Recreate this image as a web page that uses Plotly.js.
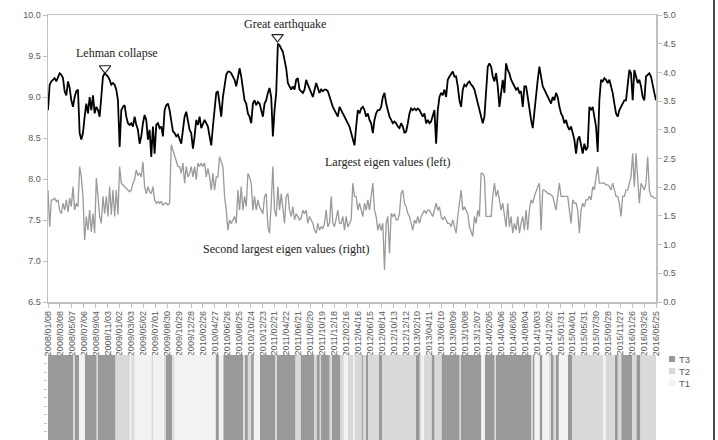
<!DOCTYPE html>
<html><head><meta charset="utf-8">
<script src="https://cdn.plot.ly/plotly-3.0.1.min.js"></script>
<style>html,body{margin:0;padding:0;background:#fff}#wrap{position:relative;width:718px;height:440px}#chart{width:718px;height:440px}#edge{position:absolute;left:713px;top:0;width:2px;height:440px;background:#4a4a4a}</style>
</head><body><div id="wrap"><div id="chart"></div><div id="edge"></div></div>
<script>
// ---- data ----
const START = '2008-01-08';
const END = '2016-05-25';
const SPAN_DAYS = 3060;      // START .. END
const N_READINGS = 366;      // readings evenly spaced over the span

const largestEigen = [
8.84,9.15,9.19,9.21,9.23,9.19,9.25,9.29,9.27,9.23,
9.07,9.02,9.19,9.11,8.96,8.88,9.00,9.07,9.09,8.56,
8.48,8.56,8.76,8.92,8.80,9.00,8.84,9.02,8.80,8.88,
8.84,8.76,9.00,9.25,9.29,9.27,9.25,9.21,9.15,9.17,
9.15,9.09,8.96,8.39,8.84,8.88,8.90,8.76,8.68,8.66,
8.68,8.64,8.76,8.66,8.60,8.43,8.52,8.68,8.78,8.72,
8.48,8.60,8.27,8.64,8.31,8.66,8.68,8.62,8.64,8.52,
8.84,8.90,8.92,8.84,8.72,8.58,8.56,8.52,8.54,8.48,
8.43,8.60,8.76,8.82,8.72,8.60,
8.56,8.37,8.52,8.72,8.66,8.76,8.62,8.68,8.72,8.68,
8.64,8.52,8.41,8.64,8.84,9.05,9.07,8.88,8.76,9.00,
9.13,9.27,9.31,9.31,9.29,9.25,9.21,9.13,9.25,9.35,
9.25,9.09,8.96,8.92,8.80,8.76,8.68,8.92,8.96,8.90,
8.94,8.92,8.84,8.76,8.92,8.96,9.05,9.11,9.00,8.52,
8.84,9.05,9.65,9.63,9.59,9.55,9.45,9.35,9.17,9.13,
9.09,9.13,9.09,9.21,9.23,9.09,9.07,9.05,9.09,9.21,
9.15,9.09,9.05,9.00,9.09,9.17,9.11,9.05,9.09,9.07,
9.09,9.09,9.07,9.00,8.96,8.88,8.84,8.80,8.76,8.88,
8.84,8.80,8.76,8.72,8.68,8.64,8.56,8.48,8.41,8.64,
8.84,8.80,8.86,8.88,8.84,8.76,8.80,8.72,8.68,8.56,
8.72,8.80,8.84,8.84,8.88,9.00,9.05,8.92,8.84,8.76,
8.72,8.68,8.70,8.68,8.64,8.62,8.68,8.64,8.56,8.58,
8.68,8.80,8.86,8.84,8.86,8.84,8.86,8.84,8.80,8.76,
8.80,8.68,8.72,8.68,8.70,8.76,8.84,8.43,8.84,9.00,
9.05,9.02,9.09,9.00,9.21,9.25,9.29,9.31,9.25,9.25,
9.13,8.96,8.88,9.09,9.15,9.13,9.17,9.19,9.15,9.13,
9.09,9.00,8.92,8.84,8.76,8.68,8.76,9.13,9.37,9.41,
9.37,9.25,9.19,9.29,9.13,8.88,9.09,9.21,9.05,9.41,
9.33,9.29,9.21,9.17,9.13,9.09,9.11,9.05,9.07,8.88,
9.13,9.13,9.00,8.84,8.72,8.62,8.84,9.09,9.21,9.37,
9.25,9.13,9.09,9.05,9.00,8.96,8.92,9.00,8.96,9.05,
9.00,8.88,8.80,8.76,8.68,8.72,8.64,8.60,8.64,8.56,
8.48,8.31,8.48,8.52,8.39,8.31,8.43,8.35,8.39,8.88,
8.84,8.88,8.76,8.64,8.33,8.96,9.21,9.19,9.23,9.21,
9.17,9.21,9.13,9.05,8.92,8.80,8.76,8.84,8.88,8.92,
8.96,8.96,9.13,9.33,9.29,8.96,9.33,9.25,9.17,9.21,
9.13,9.00,8.96,9.25,9.27,9.29,9.25,9.13,9.05,8.96
];
const secondEigen = [
1.95,1.31,1.78,1.78,1.81,1.75,1.78,1.60,1.54,1.72,
1.60,1.78,1.57,1.81,1.66,2.01,1.60,1.72,1.66,2.36,
2.18,1.84,1.08,1.49,1.25,1.60,1.22,1.54,1.20,2.16,
1.84,1.49,1.37,1.84,1.54,1.84,1.49,2.01,1.52,1.95,
1.49,1.95,1.52,2.36,2.07,2.04,2.01,1.98,1.95,1.92,
1.95,2.07,2.13,2.30,2.21,2.24,2.18,2.44,2.01,1.89,
2.01,1.92,1.89,2.01,1.78,1.72,1.75,1.72,1.75,1.69,
1.72,1.72,1.69,1.72,2.74,2.65,2.53,2.47,2.36,2.36,
2.24,2.42,2.07,2.36,2.18,2.24,
2.36,2.18,2.36,2.13,2.42,2.36,2.42,2.36,2.42,2.18,
2.33,2.18,1.95,2.24,1.95,2.18,2.18,2.53,2.42,2.36,
1.84,1.60,1.25,1.43,1.37,1.43,1.49,1.37,1.95,1.60,
2.01,1.60,1.84,1.66,2.24,2.18,2.07,1.60,1.84,1.60,
1.78,1.66,1.60,1.54,1.84,1.89,1.31,1.20,1.72,2.36,
1.60,1.49,2.01,1.60,1.89,1.60,1.37,1.84,1.89,1.60,
1.49,1.66,1.43,1.54,1.49,1.43,1.46,1.60,1.54,1.60,
1.37,1.49,1.43,1.37,1.25,1.20,1.37,1.25,1.31,1.28,
1.37,1.60,1.31,1.37,1.84,1.37,1.31,1.49,1.60,1.37,
1.37,1.49,1.25,1.49,1.31,1.37,1.43,2.07,1.84,1.84,
1.60,1.72,1.60,1.49,1.72,1.60,1.78,1.60,1.84,2.07,
1.60,1.49,1.25,1.37,1.25,1.37,0.56,1.37,1.49,0.85,
1.54,1.49,1.54,1.43,1.43,1.54,1.89,1.95,1.72,1.66,
1.54,1.49,1.37,1.25,1.43,1.37,1.49,1.37,1.49,1.54,
1.60,1.54,1.60,1.60,1.54,1.49,1.60,1.72,1.60,1.66,
1.49,1.43,1.49,1.43,1.37,1.37,1.31,1.43,1.31,1.20,
1.49,1.72,1.95,1.60,1.66,1.60,1.54,1.31,1.20,1.14,
1.49,1.37,1.60,1.49,2.24,2.24,2.18,1.49,1.49,1.49,
1.49,1.84,2.07,1.84,1.95,1.78,1.60,1.72,1.49,1.31,
1.72,1.31,1.49,1.20,1.37,1.25,1.49,1.20,1.37,1.49,
1.25,1.60,1.25,1.60,1.78,1.72,1.84,1.95,2.01,2.07,
1.25,1.95,1.95,1.92,1.89,1.89,1.86,1.84,1.72,1.60,
1.84,2.07,1.84,1.84,1.84,1.84,1.84,1.60,1.37,1.78,
1.72,1.72,1.60,1.20,1.60,1.72,1.66,1.78,1.78,1.84,
1.78,2.01,1.95,2.18,2.36,2.07,2.07,2.07,2.07,2.04,
2.04,2.01,1.95,2.07,1.95,1.84,1.84,1.72,1.49,1.84,
1.84,1.95,1.95,2.07,2.18,2.59,2.01,2.59,2.18,1.72,
2.07,2.01,1.95,2.07,2.53,1.95,1.84,1.84,1.81,1.81
];

// regime strip: start day (days after START) and regime of each segment
const regimeStartDay = [0,127,134,156,185,245,251,340,412,419,436,520,530,583,592,625,637,843,860,882,
982,991,1006,1022,1036,1066,1145,1152,1246,1271,1341,1351,1368,1374,1418,1428,1472,1489,1509,1535,
1542,1578,1585,1599,1611,1666,1683,1851,1871,1879,1891,1930,1946,1980,2072,2077,2181,2198,2248,2253,
2433,2441,2449,2474,2488,2521,2530,2545,2555,2571,2617,2639,2793,2806,2852,2868,2885,2941,2961,2982];
const regimeLevel = ['T3','T2','T3','T1','T3','T2','T3','T2','T1','T2','T1','T2','T1','T2','T3','T2','T1','T3','T1','T3',
'T2','T3','T2','T3','T1','T3','T2','T3','T2','T3','T2','T3','T2','T3','T2','T3','T2','T1','T2','T1',
'T2','T3','T2','T3','T2','T3','T2','T3','T2','T1','T2','T3','T2','T3','T2','T3','T1','T3','T2','T3',
'T2','T3','T1','T3','T1','T2','T3','T2','T3','T1','T3','T2','T1','T2','T3','T2','T3','T2','T3','T2'];
const regimeEndDay = 3060;
const regimeNames = ['T3','T2','T1'];

const eventNames = ['Lehman collapse','Great earthquake'];
const eventDates = ['2008-10-21','2011-03-08'];
const eventMarkerY = [9.35,9.73];

const seriesNames = ['Largest eigen values (left)','Second largest eigen values (right)'];

// ---- styles ----
const regimeColors = {T3:'#999999', T2:'#d9d9d9', T1:'#f2f2f2'};
const startMs = Date.UTC(2008,0,8);
function dayToStr(d){ return new Date(startMs + Math.round(d*864e5/1000)*1000).toISOString().replace('T',' ').slice(0,19); }

const dates = largestEigen.map((_,i)=>dayToStr(i*SPAN_DAYS/(N_READINGS-1)));

const traces = [];
traces.push({x:dates, y:largestEigen, type:'scatter', mode:'lines', xaxis:'x', yaxis:'y',
  line:{color:'#000', width:1.8}, showlegend:false, hoverinfo:'skip'});
traces.push({x:dates, y:secondEigen, type:'scatter', mode:'lines', xaxis:'x', yaxis:'y3',
  line:{color:'#9a9a9a', width:1.3}, showlegend:false, hoverinfo:'skip'});
traces.push({x:eventDates, y:eventMarkerY, type:'scatter', mode:'markers', xaxis:'x', yaxis:'y',
  marker:{symbol:'triangle-down-open', size:10, color:'#222', line:{width:1.1, color:'#222'}}, showlegend:false, hoverinfo:'skip'});

regimeNames.forEach(name=>{
  const xs=[], ws=[], ys=[];
  regimeStartDay.forEach((s,k)=>{
    if(regimeLevel[k]!==name) return;
    const e = k+1<regimeStartDay.length ? regimeStartDay[k+1] : regimeEndDay;
    xs.push(dayToStr((s+e)/2)); ws.push((e-s)*864e5); ys.push(10);
  });
  traces.push({x:xs, y:ys, width:ws, type:'bar', xaxis:'x2', yaxis:'y2',
    marker:{color:regimeColors[name], line:{width:0}}, showlegend:false, hoverinfo:'skip', name:name});
});

const axisGray = '#c0c0c0';
const tickGray = '#595959';
const L = 48, R = 656.5, T = 15, H = 440;
const px = x => (x-L)/(R-L);
const py = y => (H-y)/(H-T);
const serif = '"Liberation Serif", "Times New Roman", serif';

const annotations = [
  {x:px(117), y:py(53.5), text:eventNames[0]},
  {x:px(285.5), y:py(24), text:eventNames[1]},
  {x:px(387.7), y:py(162), text:seriesNames[0]},
  {x:px(286.5), y:py(249), text:seriesNames[1]}
].map(a=>Object.assign({xref:'paper', yref:'paper', xanchor:'center', yanchor:'middle', showarrow:false,
  font:{family:serif, size:12, color:'#222'}}, a));

const shapes = [];
// hand-made legend for the regime strip
regimeNames.forEach((name,k)=>{
  const cy = 359 + 12*k;
  shapes.push({type:'rect', xref:'paper', yref:'paper', x0:px(669.5), x1:px(675.5), y0:py(cy+3), y1:py(cy-3),
    fillcolor:regimeColors[name], line:{width:0}});
  annotations.push({xref:'paper', yref:'paper', x:px(677.5), y:py(cy), xanchor:'left', yanchor:'middle',
    text:name, showarrow:false, font:{size:9.5, color:tickGray}});
});

const layout = {
  width:718, height:440,
  margin:{l:L, r:718-R, t:T, b:0, pad:0},
  paper_bgcolor:'#fff', plot_bgcolor:'#fff',
  font:{family:'"Liberation Sans", Arial, sans-serif', size:9, color:tickGray},
  barmode:'overlay', hovermode:false,
  showlegend:false,
  xaxis:{type:'date', domain:[0,1], anchor:'y', range:[START, END], tick0:START, dtick:60*864e5,
    tickformat:'%Y/%m/%d', tickangle:-90, ticks:'outside', ticklen:4, tickcolor:axisGray,
    showline:true, linecolor:axisGray, linewidth:1.5, mirror:true, showgrid:false, zeroline:false,
    tickfont:{size:9, color:tickGray}},
  yaxis:{domain:[py(302),1], anchor:'x', range:[6.5,10], dtick:0.5, tickformat:'.1f', ticks:'outside', ticklen:4,
    tickcolor:axisGray, showline:true, linecolor:axisGray, linewidth:1.5, showgrid:false, zeroline:false,
    tickfont:{size:9, color:tickGray}},
  yaxis3:{overlaying:'y', side:'right', anchor:'x', range:[0,5], dtick:0.5, tickformat:'.1f', ticks:'outside', ticklen:4,
    tickcolor:axisGray, showline:true, linecolor:axisGray, linewidth:1.5, showgrid:false, zeroline:false,
    tickfont:{size:9, color:tickGray}},
  xaxis2:{type:'date', domain:[0,1], anchor:'y2', range:[START, END], showticklabels:false, ticks:'',
    showline:false, showgrid:false, zeroline:false},
  yaxis2:{domain:[0,py(355)], anchor:'x2', range:[0,10], dtick:1, ticks:'outside', ticklen:3, tickcolor:'#c8c8c8',
    showticklabels:false, showline:false, showgrid:false, zeroline:false},
  annotations:annotations,
  shapes:shapes
};

Plotly.newPlot('chart', traces, layout, {staticPlot:true, displayModeBar:false});
</script>
</body></html>
